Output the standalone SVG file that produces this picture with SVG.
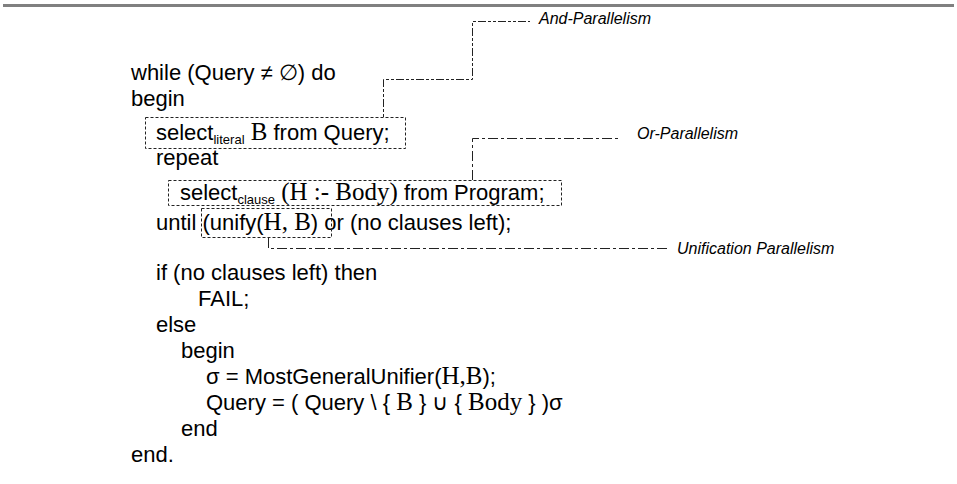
<svg xmlns="http://www.w3.org/2000/svg" width="957" height="484" viewBox="0 0 957 484">
<style>
text{font-family:"Liberation Sans",Arial,sans-serif;font-size:22px;fill:#000}
.s{font-family:"Liberation Serif","Times New Roman",serif;font-size:25px}
.sub{font-size:13px}
.lbl{font-size:16px;font-style:italic}
.box{fill:none;stroke:#222;stroke-width:1;stroke-dasharray:3 2}
.c1{fill:none;stroke:#222;stroke-width:1;stroke-dasharray:3 2 3 2 8 2}
.c2{fill:none;stroke:#222;stroke-width:1;stroke-dasharray:10 3 3 3}
.c3{fill:none;stroke:#222;stroke-width:1;stroke-dasharray:10 3 3 3}
</style>
<rect x="3" y="4" width="951" height="3" fill="#808080"/>
<g id="code">
<text x="131" y="80">while (Query ≠ ∅) do</text>
<text x="131" y="106">begin</text>
<text x="156" y="165">repeat</text>
<text x="156" y="230">until <tspan>(unify(</tspan><tspan class="s">H, B</tspan>) or (no clauses left);</text>
<text x="156" y="280">if (no clauses left) then</text>
<text x="198" y="306">FAIL;</text>
<text x="156" y="332">else</text>
<text x="181" y="358">begin</text>
<text x="206" y="384">σ = MostGeneralUnifier(<tspan class="s">H,B</tspan>);</text>
<text x="206" y="410">Query = ( Query \ { <tspan class="s">B</tspan> } ∪ { <tspan class="s">Body</tspan> } )σ</text>
<text x="181" y="436">end</text>
<text x="131" y="462">end.</text>
</g>
<g id="select-literal">
<rect class="box" x="145.5" y="117.5" width="260" height="31"/>
<text x="156" y="140">select<tspan class="sub" dy="4">literal</tspan><tspan dy="-4"> </tspan><tspan class="s">B</tspan> from Query;</text>
</g>
<g id="select-clause">
<rect class="box" x="168.5" y="180.5" width="393" height="25"/>
<text x="180" y="200">select<tspan class="sub" dy="4">clause</tspan><tspan dy="-4"> </tspan><tspan class="s">(H :- Body)</tspan> from Program;</text>
</g>
<g id="unify">
<rect class="box" x="201.5" y="208.5" width="130" height="29"/>
</g>
<g id="and-parallelism">
<text class="lbl" x="539" y="24">And-Parallelism</text>
</g>
<g id="or-parallelism">
<text class="lbl" x="637" y="139">Or-Parallelism</text>
</g>
<g id="unification-parallelism">
<text class="lbl" x="677" y="254">Unification Parallelism</text>
</g>
<g id="connectors">
<path class="c1" d="M383.5 117 V79.5 H472.5 V21.5 H530"/>
<path class="c2" d="M472.5 180 V138.5 H620"/>
<path class="c3" d="M268.5 238 V248.5 H668"/>
</g>
</svg>
